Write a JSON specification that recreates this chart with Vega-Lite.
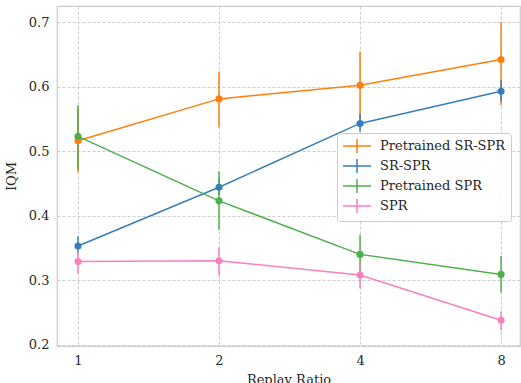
{
  "$schema": "https://vega.github.io/schema/vega-lite/v6.json",
  "width": 463,
  "height": 340,
  "autosize": {"type": "none"},
  "padding": {"left": 57, "top": 6, "right": 1, "bottom": 37},
  "background": "white",
  "config": {
    "font": "DejaVu Serif",
    "view": {"stroke": "#cccccc", "strokeWidth": 1.2},
    "legend": {"labelFont": "DejaVu Serif", "labelFontSize": 13, "labelColor": "#262626", "labelFontWeight": "normal"},
    "axis": {
      "labelFont": "DejaVu Serif",
      "titleFont": "DejaVu Serif",
      "labelFontSize": 13,
      "labelFontWeight": "normal",
      "titleFontSize": 13,
      "titleFontWeight": "normal",
      "labelColor": "#262626",
      "titleColor": "#262626",
      "domain": false,
      "ticks": false,
      "gridColor": "#cccccc",
      "gridDash": [3, 2],
      "gridWidth": 1,
      "labelPadding": 8
    }
  },
  "data": {
    "values": [
      {"ratio": 1, "method": "Pretrained SR-SPR", "iqm": 0.516, "lo": 0.467, "hi": 0.566},
      {"ratio": 2, "method": "Pretrained SR-SPR", "iqm": 0.581, "lo": 0.537, "hi": 0.623},
      {"ratio": 4, "method": "Pretrained SR-SPR", "iqm": 0.602, "lo": 0.549, "hi": 0.655},
      {"ratio": 8, "method": "Pretrained SR-SPR", "iqm": 0.642, "lo": 0.571, "hi": 0.700},
      {"ratio": 1, "method": "SR-SPR", "iqm": 0.353, "lo": 0.34, "hi": 0.368},
      {"ratio": 2, "method": "SR-SPR", "iqm": 0.444, "lo": 0.432, "hi": 0.458},
      {"ratio": 4, "method": "SR-SPR", "iqm": 0.543, "lo": 0.53, "hi": 0.558},
      {"ratio": 8, "method": "SR-SPR", "iqm": 0.593, "lo": 0.577, "hi": 0.610},
      {"ratio": 1, "method": "Pretrained SPR", "iqm": 0.523, "lo": 0.472, "hi": 0.571},
      {"ratio": 2, "method": "Pretrained SPR", "iqm": 0.423, "lo": 0.378, "hi": 0.469},
      {"ratio": 4, "method": "Pretrained SPR", "iqm": 0.340, "lo": 0.31, "hi": 0.370},
      {"ratio": 8, "method": "Pretrained SPR", "iqm": 0.309, "lo": 0.281, "hi": 0.338},
      {"ratio": 1, "method": "SPR", "iqm": 0.329, "lo": 0.310, "hi": 0.345},
      {"ratio": 2, "method": "SPR", "iqm": 0.330, "lo": 0.307, "hi": 0.351},
      {"ratio": 4, "method": "SPR", "iqm": 0.308, "lo": 0.287, "hi": 0.325},
      {"ratio": 8, "method": "SPR", "iqm": 0.238, "lo": 0.222, "hi": 0.252}
    ]
  },
  "encoding": {
    "x": {
      "field": "ratio", "type": "quantitative",
      "scale": {"type": "log", "base": 2, "domain": [0.902, 8.78], "nice": false},
      "axis": {"values": [1, 2, 4, 8], "format": "d", "title": "Replay Ratio", "titlePadding": 6}
    },
    "color": {
      "field": "method", "type": "nominal",
      "scale": {
        "domain": ["Pretrained SR-SPR", "SR-SPR", "Pretrained SPR", "SPR"],
        "range": ["#ff7f0e", "#377eb8", "#4daf4a", "#f781bf"]
      },
      "legend": {
        "title": null,
        "orient": "none",
        "legendX": 280,
        "legendY": 127,
        "labelFont": "DejaVu Serif",
        "labelFontSize": 13,
        "symbolType": "M-2,0H2M0,-1V1",
        "symbolSize": 196,
        "symbolOffset": 7,
        "symbolStrokeWidth": 1.5,
        "symbolFillColor": "transparent",
        "rowPadding": 0,
        "labelOffset": 15,
        "padding": 5,
        "fillColor": "rgba(255,255,255,0.85)",
        "strokeColor": "#cccccc",
        "cornerRadius": 3
      }
    }
  },
  "layer": [
    {
      "mark": {"type": "rule", "strokeWidth": 1.5},
      "encoding": {
        "y": {"field": "lo", "type": "quantitative"},
        "y2": {"field": "hi"},
        "color": {"field": "method", "type": "nominal"}
      }
    },
    {
      "mark": {"type": "line", "strokeWidth": 1.5},
      "encoding": {
        "y": {
          "field": "iqm", "type": "quantitative",
          "scale": {"domain": [0.198, 0.725], "nice": false, "zero": false},
          "axis": {"values": [0.2, 0.3, 0.4, 0.5, 0.6, 0.7], "format": ".1f", "title": "IQM", "titlePadding": 10}
        },
        "stroke": {"field": "method", "type": "nominal", "legend": null, "scale": {"domain": ["Pretrained SR-SPR", "SR-SPR", "Pretrained SPR", "SPR"], "range": ["#ff7f0e", "#377eb8", "#4daf4a", "#f781bf"]}}
      }
    },
    {
      "mark": {"type": "point", "filled": true, "size": 50, "opacity": 1},
      "encoding": {
        "y": {"field": "iqm", "type": "quantitative"},
        "fill": {"field": "method", "type": "nominal", "legend": null, "scale": {"domain": ["Pretrained SR-SPR", "SR-SPR", "Pretrained SPR", "SPR"], "range": ["#ff7f0e", "#377eb8", "#4daf4a", "#f781bf"]}}
      }
    }
  ]
}
